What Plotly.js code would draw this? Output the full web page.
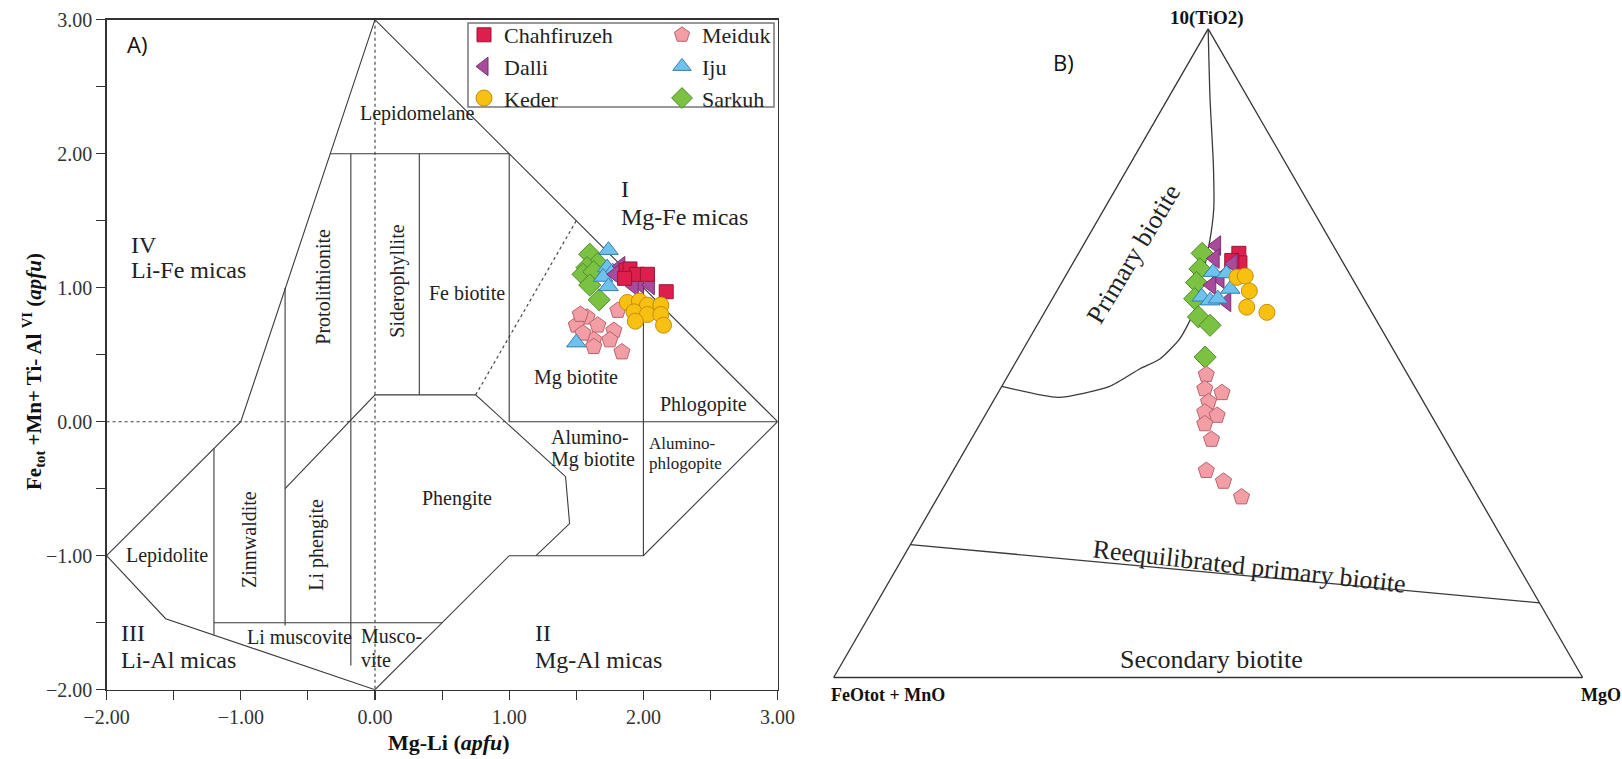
<!DOCTYPE html>
<html>
<head>
<meta charset="utf-8">
<script src="https://cdn.plot.ly/plotly-3.0.1.min.js"></script>
<style>
  html, body { margin: 0; padding: 0; background: #ffffff; }
  #chart { width: 1622px; height: 759px; }
</style>
</head>
<body>
<div id="chart"></div>
<script>
// ---------- A) Mg-Li vs Fe(tot)+Mn+Ti-Al(VI), apfu ----------
const chahfiruzehMgLi = [1.87, 1.90, 1.95, 2.03, 1.86, 2.17];
const chahfiruzehFeAl = [1.13, 1.14, 1.10, 1.10, 1.07, 0.97];
const dalliMgLi = [1.83, 1.79, 1.97, 2.05, 1.93];
const dalliFeAl = [1.16, 1.10, 1.03, 1.02, 1.01];
const kederMgLi = [1.88, 1.97, 2.03, 2.13, 1.93, 2.03, 2.13, 1.94, 2.15];
const kederFeAl = [0.89, 0.90, 0.87, 0.87, 0.82, 0.80, 0.80, 0.75, 0.72];
const meidukMgLi = [1.58, 1.66, 1.81, 1.50, 1.78, 1.63, 1.75, 1.63, 1.84, 1.55, 1.53];
const meidukFeAl = [0.78, 0.72, 0.83, 0.72, 0.68, 0.61, 0.61, 0.56, 0.52, 0.66, 0.80];
const ijuMgLi = [1.74, 1.73, 1.77, 1.70, 1.74, 1.50];
const ijuFeAl = [1.28, 1.15, 1.12, 1.08, 1.01, 0.59];
const sarkuhMgLi = [1.60, 1.66, 1.58, 1.55, 1.63, 1.60, 1.67];
const sarkuhFeAl = [1.25, 1.18, 1.15, 1.10, 1.12, 1.02, 0.91];

// field boundaries of the mica classification diagram
const outlineX = [-2, -1, 0, 3, 2, 1, 0, -1.56, -2];
const outlineY = [-1, 0, 3, 0, -1, -1, -2, -1.47, -1];
const fieldX = [-0.333, 1, null, 1, 1, null, 1, 3, null, 2, 2, null, 0.33, 0.33, null,
                -0.18, -0.18, null, -0.67, -0.67, null, -1.2, -1.2, null, -1.2, 0.5, null,
                -0.67, 0, 0.75, 1.42, 1.45, 1.2];
const fieldY = [2, 2, null, 2, 0, null, 0, 0, null, 1, -1, null, 2, 0.2, null,
                2, -1.82, null, 1, -1.52, null, -0.2, -1.59, null, -1.5, -1.5, null,
                -0.5, 0.2, 0.2, -0.41, -0.76, -1];
const dottedX = [0, 0, null, -2, 1, null, 0.75, 1.5];
const dottedY = [3, -2, null, 0, 0, null, 0.2, 1.5];

// ---------- B) 10(TiO2) - (FeOtot+MnO) - MgO ----------
const chahfiruzehTiO2 = [65.4, 64.0, 64.3];
const chahfiruzehFeO  = [13.2, 13.8, 14.7];
const chahfiruzehMgO  = [21.4, 22.3, 21.0];
const dalliTiO2 = [66.6, 64.6, 63.8, 61.5, 60.5, 57.9];
const dalliFeO  = [15.6, 16.8, 14.8, 17.7, 19.3, 18.6];
const dalliMgO  = [17.8, 18.6, 21.4, 20.8, 20.2, 23.5];
const kederTiO2 = [61.7, 61.9, 59.6, 57.1, 56.3];
const kederFeO  = [15.3, 14.1, 14.7, 16.3, 14.0];
const kederMgO  = [23.0, 24.0, 25.7, 26.6, 29.7];
const meidukTiO2 = [46.7, 44.5, 43.9, 42.5, 40.9, 40.4, 39.1, 36.7, 31.9, 30.2, 27.8];
const meidukFeO  = [26.9, 28.2, 26.2, 28.7, 30.0, 28.6, 30.9, 31.2, 34.3, 32.8, 31.6];
const meidukMgO  = [26.4, 27.3, 29.9, 28.8, 29.1, 31.0, 30.0, 32.1, 33.8, 36.9, 40.5];
const ijuTiO2 = [62.5, 62.3, 59.9, 58.7, 58.1, 58.4];
const ijuFeO  = [18.1, 16.4, 17.1, 21.5, 20.7, 19.5];
const ijuMgO  = [19.4, 21.3, 23.0, 19.8, 21.2, 22.1];
const sarkuhTiO2 = [65.4, 63.0, 60.9, 58.4, 55.6, 54.3, 49.4];
const sarkuhFeO  = [18.1, 19.6, 21.1, 22.6, 23.5, 22.6, 25.7];
const sarkuhMgO  = [16.5, 17.4, 18.0, 19.0, 20.9, 23.1, 24.9];

// primary-biotite field boundary and the reequilibrated/secondary divide
const primaryTiO2 = [100, 89.3, 79.0, 72.3, 67.2, 56.3, 52.2, 49.1, 47.6, 44.9, 43.2, 44.9];
const primaryFeO  = [0, 5.1, 9.8, 13.1, 16.2, 23.8, 27.7, 31.9, 35.3, 40.7, 48.4, 55.1];
const primaryMgO  = [0, 5.6, 11.2, 14.6, 16.6, 19.9, 20.1, 19.0, 17.1, 14.4, 8.4, 0];
const secondaryTiO2 = [20.5, 11.5];
const secondaryFeO  = [79.5, 0];
const secondaryMgO  = [0, 88.5];

// ---------- styling ----------
const W = 1622, H = 759;
const SERIF = 'Liberation Serif';
const SANS = 'Open Sans';
const LINE = '#3a3a3a';
const px = v => v / W;
const py = v => 1 - v / H;

const groups = [
  {name: 'Chahfiruzeh', x: chahfiruzehMgLi, y: chahfiruzehFeAl, a: chahfiruzehTiO2, b: chahfiruzehFeO, c: chahfiruzehMgO,
   symbol: 'square', color: '#DE1E4C', edge: '#9c1636', size: 14, legend: 'legend', rank: 1},
  {name: 'Dalli', x: dalliMgLi, y: dalliFeAl, a: dalliTiO2, b: dalliFeO, c: dalliMgO,
   symbol: 'triangle-left', color: '#AA4A9C', edge: '#7a2f70', size: 17, legend: 'legend', rank: 2},
  {name: 'Keder', x: kederMgLi, y: kederFeAl, a: kederTiO2, b: kederFeO, c: kederMgO,
   symbol: 'circle', color: '#F8C010', edge: '#c28f0c', size: 16, legend: 'legend', rank: 3},
  {name: 'Meiduk', x: meidukMgLi, y: meidukFeAl, a: meidukTiO2, b: meidukFeO, c: meidukMgO,
   symbol: 'pentagon', color: '#F39DA4', edge: '#b8646d', size: 17, legend: 'legend2', rank: 4},
  {name: 'Iju', x: ijuMgLi, y: ijuFeAl, a: ijuTiO2, b: ijuFeO, c: ijuMgO,
   symbol: 'triangle-up', color: '#6EC3EE', edge: '#3a7eae', size: 17, legend: 'legend2', rank: 5},
  {name: 'Sarkuh', x: sarkuhMgLi, y: sarkuhFeAl, a: sarkuhTiO2, b: sarkuhFeO, c: sarkuhMgO,
   symbol: 'diamond', color: '#7CC242', edge: '#4d8a28', size: 17, legend: 'legend2', rank: 6}
];
const byName = Object.fromEntries(groups.map(g => [g.name, g]));

const traces = [];
// diagram fields (panel A)
traces.push({type: 'scatter', mode: 'lines', x: outlineX, y: outlineY, xaxis: 'x', yaxis: 'y',
  line: {color: LINE, width: 1.1}, showlegend: false, hoverinfo: 'skip'});
traces.push({type: 'scatter', mode: 'lines', x: fieldX, y: fieldY, xaxis: 'x', yaxis: 'y',
  line: {color: LINE, width: 1.1}, connectgaps: false, showlegend: false, hoverinfo: 'skip'});
traces.push({type: 'scatter', mode: 'lines', x: dottedX, y: dottedY, xaxis: 'x', yaxis: 'y',
  line: {color: LINE, width: 1.1, dash: 'dot'}, connectgaps: false, showlegend: false, hoverinfo: 'skip'});

// sample points (panel A), back to front
['Meiduk', 'Sarkuh', 'Iju', 'Dalli', 'Chahfiruzeh', 'Keder'].forEach(n => {
  const g = byName[n];
  traces.push({type: 'scatter', mode: 'markers', name: g.name, x: g.x, y: g.y, xaxis: 'x', yaxis: 'y',
    legend: g.legend, legendrank: g.rank,
    marker: {symbol: g.symbol, color: g.color, size: g.size, line: {color: g.edge, width: 1}}});
});

// ternary field lines (panel B)
traces.push({type: 'scatterternary', mode: 'lines', subplot: 'ternary',
  a: primaryTiO2, b: primaryFeO, c: primaryMgO,
  line: {color: LINE, width: 1.3, shape: 'spline', smoothing: 0.6}, showlegend: false, hoverinfo: 'skip'});
traces.push({type: 'scatterternary', mode: 'lines', subplot: 'ternary',
  a: secondaryTiO2, b: secondaryFeO, c: secondaryMgO,
  line: {color: LINE, width: 1.3}, showlegend: false, hoverinfo: 'skip'});

// sample points (panel B), back to front
['Sarkuh', 'Chahfiruzeh', 'Dalli', 'Iju', 'Keder', 'Meiduk'].forEach(n => {
  const g = byName[n];
  traces.push({type: 'scatterternary', mode: 'markers', name: g.name, subplot: 'ternary',
    a: g.a, b: g.b, c: g.c, showlegend: false,
    marker: {symbol: g.symbol, color: g.color, size: g.size, line: {color: g.edge, width: 1}}});
});

// ---------- text ----------
const ann = [];
function dataLabel(text, x, y, opts) {
  ann.push(Object.assign({text, x, y, xref: 'x', yref: 'y', showarrow: false,
    xanchor: 'center', yanchor: 'middle',
    font: {family: SERIF, size: 20, color: '#222'}}, opts || {}));
}
function paperLabel(text, x, y, opts) {
  ann.push(Object.assign({text, x: px(x), y: py(y), xref: 'paper', yref: 'paper', showarrow: false,
    xanchor: 'center', yanchor: 'middle',
    font: {family: SERIF, size: 20, color: '#222'}}, opts || {}));
}
const big = {family: SERIF, size: 24, color: '#222'};
const small = {family: SERIF, size: 17, color: '#222'};

dataLabel('Lepidomelane', 0.32, 2.30);
dataLabel('Protolithionite', -0.385, 1.01, {textangle: -90});
dataLabel('Siderophyllite', 0.162, 1.05, {textangle: -90});
dataLabel('Fe biotite', 0.683, 0.96);
dataLabel('IV', -1.83, 1.32, {xanchor: 'left', font: big});
dataLabel('Li-Fe micas', -1.83, 1.13, {xanchor: 'left', font: big});
dataLabel('I', 1.815, 1.74, {xanchor: 'left', font: big});
dataLabel('Mg-Fe micas', 1.815, 1.53, {xanchor: 'left', font: big});
dataLabel('Mg biotite', 1.50, 0.33);
dataLabel('Phlogopite', 2.446, 0.125);
dataLabel('Alumino-', 1.30, -0.115, {xanchor: 'left'});
dataLabel('Mg biotite', 1.30, -0.285, {xanchor: 'left'});
dataLabel('Alumino-', 2.025, -0.16, {xanchor: 'left', font: small});
dataLabel('phlogopite', 2.025, -0.31, {xanchor: 'left', font: small});
dataLabel('Phengite', 0.61, -0.57);
dataLabel('Lepidolite', -1.552, -1.0);
dataLabel('Zinnwaldite', -0.944, -0.88, {textangle: -90});
dataLabel('Li phengite', -0.434, -0.92, {textangle: -90});
dataLabel('Li muscovite', -0.564, -1.61);
dataLabel('Musco-', -0.12, -1.60, {xanchor: 'left'});
dataLabel('vite', -0.12, -1.775, {xanchor: 'left'});
dataLabel('III', -1.905, -1.575, {xanchor: 'left', font: big});
dataLabel('Li-Al micas', -1.905, -1.775, {xanchor: 'left', font: big});
dataLabel('II', 1.18, -1.575, {xanchor: 'left', font: big});
dataLabel('Mg-Al micas', 1.18, -1.775, {xanchor: 'left', font: big});

// axis titles for panel A
paperLabel('<b>Mg-Li (<i>apfu</i>)</b>', 449, 742, {font: {family: SERIF, size: 22, color: '#111'}});
paperLabel('<b>Fe<sub>tot</sub> +Mn+ Ti- Al <sup>VI</sup> (<i>apfu</i>)</b>', 33, 372,
  {textangle: -90, font: {family: SERIF, size: 21, color: '#111'}});

// panel tags
paperLabel('A)', 137, 44, {font: {family: SANS, size: 22, color: '#111'}});
paperLabel('B)', 1063, 62, {font: {family: SANS, size: 22, color: '#111'}});

// panel B labels
paperLabel('<b>10(TiO2)</b>', 1207, 18, {font: {family: SERIF, size: 19, color: '#111'}});
paperLabel('<b>FeOtot + MnO</b>', 888, 695, {font: {family: SERIF, size: 18, color: '#111'}});
paperLabel('<b>MgO</b>', 1601, 695, {font: {family: SERIF, size: 18, color: '#111'}});
paperLabel('Primary biotite', 1133, 254, {textangle: -59, font: {family: SERIF, size: 26, color: '#222'}});
paperLabel('Reequilibrated primary biotite', 1249, 566, {textangle: 6.5, font: {family: SERIF, size: 26, color: '#222'}});
paperLabel('Secondary biotite', 1211, 659, {font: {family: SERIF, size: 26, color: '#222'}});

const axisCommon = {
  showline: true, mirror: true, linecolor: '#333', linewidth: 1.3,
  ticks: 'outside', ticklen: 9, tickwidth: 1.2, tickcolor: '#333',
  tickformat: '.2f', dtick: 1, showgrid: false, zeroline: false,
  tickfont: {family: SERIF, size: 20, color: '#333'},
  minor: {dtick: 0.5, ticks: 'outside', ticklen: 9, tickwidth: 1.2, tickcolor: '#333', showgrid: false}
};
const ternAxis = {
  showline: true, linecolor: '#333', linewidth: 1.3, showgrid: false,
  ticks: '', showticklabels: false, title: {text: ''}
};

const layout = {
  width: W, height: H,
  margin: {l: 0, r: 0, t: 0, b: 0},
  font: {family: SERIF, color: '#222'},
  paper_bgcolor: '#ffffff', plot_bgcolor: '#ffffff',
  xaxis: Object.assign({}, axisCommon, {domain: [px(106.6), px(777.6)], range: [-2, 3], tick0: -2}),
  yaxis: Object.assign({}, axisCommon, {domain: [py(689.7), py(19.7)], range: [-2, 3], tick0: -2}),
  ternary: {
    domain: {x: [px(833.7), px(1582.6)], y: [py(677.5), py(28.9)]},
    sum: 100, bgcolor: '#ffffff',
    aaxis: ternAxis, baxis: ternAxis, caxis: ternAxis
  },
  legend: {x: px(464), y: py(14), xanchor: 'left', yanchor: 'top', bgcolor: 'rgba(0,0,0,0)',
    font: {family: SERIF, size: 22, color: '#222'}, tracegroupgap: 0, itemclick: false},
  legend2: {x: px(662), y: py(14), xanchor: 'left', yanchor: 'top', bgcolor: 'rgba(0,0,0,0)',
    font: {family: SERIF, size: 22, color: '#222'}, tracegroupgap: 0, itemclick: false},
  shapes: [{type: 'rect', xref: 'paper', yref: 'paper', x0: px(468), x1: px(774), y0: py(107), y1: py(23),
    line: {color: '#777', width: 1.5}, fillcolor: 'rgba(0,0,0,0)'}],
  annotations: ann
};

Plotly.newPlot('chart', traces, layout, {displayModeBar: false, staticPlot: true});
</script>
</body>
</html>
